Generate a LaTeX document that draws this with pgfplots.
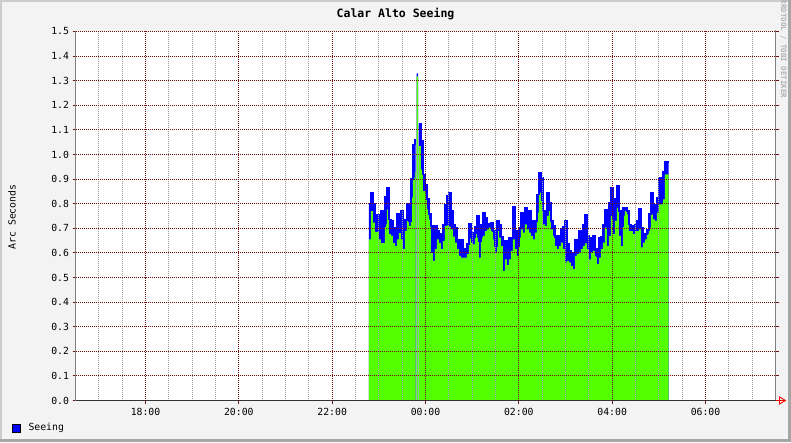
\documentclass[border=0pt]{standalone}
\usepackage{fontspec}
\setmainfont{DejaVu Sans Mono}
\usepackage{pgfplots}
\usepackage{pgfplotstable}
\pgfplotsset{compat=1.18}
\definecolor{seeblue}{HTML}{0000FF}
\definecolor{seegreen}{HTML}{54FF00}
\definecolor{gridred}{HTML}{701010}
\definecolor{bgray}{HTML}{F3F3F3}

\pgfplotstableread{
k hi lo ln
0 0.800 0.655 0.800
1 0.845 0.770 0.845
2 0.800 0.723 0.800
3 0.730 0.685 0.730
4 0.753 0.685 0.753
5 0.734 0.655 0.734
6 0.770 0.640 0.770
7 0.710 0.640 0.710
8 0.830 0.716 0.830
9 0.865 0.777 0.865
10 0.736 0.676 0.736
11 0.730 0.670 0.730
12 0.703 0.640 0.703
13 0.703 0.628 0.703
14 0.757 0.655 0.757
15 0.743 0.680 0.743
16 0.770 0.655 0.770
17 0.736 0.615 0.736
18 0.736 0.690 0.736
19 0.800 0.730 0.800
20 0.730 0.710 0.730
21 0.900 0.825 0.900
22 1.040 0.905 1.040
23 1.063 0.930 1.063
23.35 0 0 nan
23.85 1.330 1.318 1.330
24.7 0 0 nan
25 1.126 1.034 1.126
26 1.054 0.939 1.054
27 0.919 0.851 0.919
28 0.878 0.845 0.878
29 0.818 0.777 0.818
30 0.757 0.736 0.757
31 0.710 0.600 0.710
32 0.655 0.568 0.655
33 0.710 0.615 0.710
34 0.690 0.655 0.690
35 0.676 0.640 0.676
36 0.669 0.615 0.669
37 0.716 0.649 0.716
38 0.797 0.709 0.797
39 0.831 0.712 0.831
40 0.845 0.707 0.845
41 0.770 0.696 0.770
42 0.716 0.666 0.716
43 0.703 0.642 0.703
44 0.649 0.615 0.649
45 0.655 0.588 0.655
46 0.655 0.581 0.655
47 0.615 0.581 0.615
48 0.601 0.581 0.601
49 0.635 0.595 0.635
50 0.720 0.658 0.720
51 0.682 0.642 0.682
52 0.662 0.635 0.662
53 0.707 0.676 0.707
54 0.750 0.662 0.750
55 0.649 0.581 0.649
56 0.716 0.662 0.716
57 0.761 0.669 0.761
58 0.743 0.689 0.743
59 0.720 0.696 0.720
60 0.720 0.703 0.720
61 0.723 0.689 0.723
62 0.689 0.655 0.689
63 0.628 0.601 0.628
64 0.730 0.689 0.730
65 0.716 0.662 0.716
66 0.666 0.628 0.666
67 0.635 0.527 0.635
68 0.649 0.574 0.649
69 0.615 0.550 0.615
70 0.662 0.574 0.662
71 0.662 0.608 0.662
72 0.788 0.655 0.788
73 0.689 0.615 0.689
74 0.628 0.588 0.628
75 0.703 0.662 0.703
76 0.761 0.696 0.761
77 0.750 0.682 0.750
78 0.784 0.716 0.784
79 0.750 0.696 0.750
80 0.770 0.682 0.770
81 0.730 0.669 0.730
82 0.703 0.655 0.703
83 0.730 0.682 0.730
84 0.838 0.764 0.838
85 0.926 0.845 0.926
86 0.905 0.811 0.905
87 0.770 0.716 0.770
88 0.770 0.709 0.770
89 0.845 0.750 0.845
90 0.804 0.770 0.804
91 0.730 0.696 0.730
92 0.709 0.669 0.709
93 0.662 0.628 0.662
94 0.669 0.615 0.669
95 0.662 0.628 0.662
96 0.696 0.642 0.696
97 0.707 0.615 0.707
98 0.730 0.561 0.730
99 0.635 0.568 0.635
100 0.608 0.561 0.608
101 0.574 0.547 0.574
102 0.601 0.534 0.601
103 0.655 0.588 0.655
104 0.642 0.595 0.642
105 0.689 0.601 0.689
106 0.649 0.615 0.649
107 0.716 0.628 0.716
108 0.753 0.639 0.753
109 0.669 0.615 0.669
110 0.662 0.574 0.662
111 0.653 0.601 0.653
112 0.669 0.608 0.669
113 0.615 0.588 0.615
114 0.588 0.554 0.588
115 0.662 0.581 0.662
116 0.666 0.615 0.666
117 0.716 0.642 0.716
118 0.777 0.703 0.777
119 0.730 0.628 0.730
120 0.804 0.669 0.804
121 0.865 0.750 0.865
122 0.743 0.676 0.743
123 0.818 0.730 0.818
124 0.872 0.784 0.872
125 0.770 0.669 0.770
126 0.709 0.628 0.709
127 0.784 0.750 0.784
128 0.784 0.770 0.784
129 0.770 0.757 0.770
130 0.716 0.689 0.716
131 0.709 0.689 0.709
132 0.696 0.676 0.696
133 0.716 0.689 0.716
134 0.730 0.689 0.730
135 0.780 0.696 0.780
136 0.703 0.622 0.703
137 0.666 0.642 0.666
138 0.676 0.655 0.676
139 0.693 0.676 0.693
140 0.757 0.703 0.757
141 0.845 0.757 0.845
142 0.777 0.736 0.777
143 0.797 0.730 0.797
144 0.824 0.764 0.824
145 0.905 0.797 0.905
146 0.865 0.797 0.865
147 0.928 0.818 0.928
148 0.969 0.919 0.969
149.85 0.969 0.919 0.969
}\seeing

\begin{document}
\begin{tikzpicture}[x=1pt,y=1pt]
\path[use as bounding box, fill=bgray] (0,0) rectangle (791,442);
\fill[gray!40] (0,440) rectangle (791,442);
\fill[gray!40] (0,0) rectangle (2,442);
\fill[gray!70] (0,0) rectangle (791,3);
\fill[gray!70] (788,0) rectangle (791,442);
\fill[white] (75.5,41.5) rectangle (775.5,410.5);

\begin{axis}[at={(75.5pt,41.5pt)}, anchor=south west, scale only axis,
  width=700pt, height=369pt,
  xmin=16.5, xmax=31.5, ymin=0, ymax=1.5,
  axis line style={draw=none},
  axis on top,
  clip=true,
  unbounded coords=jump,
  xtick={18,20,22,24,26,28,30},
  xticklabels={18:00,20:00,22:00,00:00,02:00,04:00,06:00},
  minor xtick={17,17.5,18.5,19,19.5,20.5,21,21.5,22.5,23,23.5,24.5,25,25.5,26.5,27,27.5,28.5,29,29.5,30.5,31},
  ytick={0,0.1,0.2,0.3,0.4,0.5,0.6,0.7,0.8,0.9,1.0,1.1,1.2,1.3,1.4,1.5},
  grid=both,
  major grid style={color=gridred, line width=1pt, dash pattern=on 1pt off 1pt},
  minor grid style={color=gray!75, line width=1pt, dash pattern=on 1pt off 1pt},
  tick align=outside, major tick length=3pt, minor tick length=0pt,
  tick style={color=gridred, line width=1pt},
  xtick pos=left, ytick pos=both,
  ticklabel style={font=\fontsize{9.8}{11}\selectfont, text=black},
  yticklabel style={/pgf/number format/.cd, fixed, fixed zerofill, precision=1, assume math mode=true},
  xticklabel style={yshift=-1pt},
]
\addplot[const plot, fill=seeblue, draw=none]
  table[x expr=22.785+0.042857*\thisrow{k}, y=hi]{\seeing} \closedcycle;
\addplot[const plot, fill=seegreen, draw=none]
  table[x expr=22.785+0.042857*\thisrow{k}, y=lo]{\seeing} \closedcycle;
\addplot[const plot, draw=seeblue, line width=1.6pt]
  table[x expr=22.785+0.042857*\thisrow{k}, y=ln]{\seeing};
\end{axis}

% axis lines
\draw[gray, line width=1pt] (75.5,41.5) -- (75.5,410.5);
\draw[gray, line width=1pt] (775.5,41.5) -- (775.5,412);
\draw[black!80, line width=1pt] (75.5,41.5) -- (775.5,41.5);
\draw[red, line width=1pt] (775.5,41.5) -- (786,41.5);
\draw[red, line width=0.9pt] (779.5,38) -- (779.5,45) -- (785.5,41.5) -- cycle;

% title, labels
\node[font=\fontsize{11.5}{13}\selectfont\bfseries] at (395.5,428) {Calar Alto Seeing};
\node[rotate=90, font=\fontsize{9.8}{11}\selectfont] at (12,225) {Arc Seconds};
\node[rotate=-90, font=\fontsize{7.4}{8}\selectfont\bfseries, text=gray!60] at (783.5,393) {RRDTOOL / TOBI OETIKER};

% legend
\draw[black, fill=seeblue, line width=0.8pt] (12.5,10) rectangle (20.5,18);
\node[anchor=west, font=\fontsize{9.8}{11}\selectfont] at (25,14) {Seeing};
\end{tikzpicture}
\end{document}
